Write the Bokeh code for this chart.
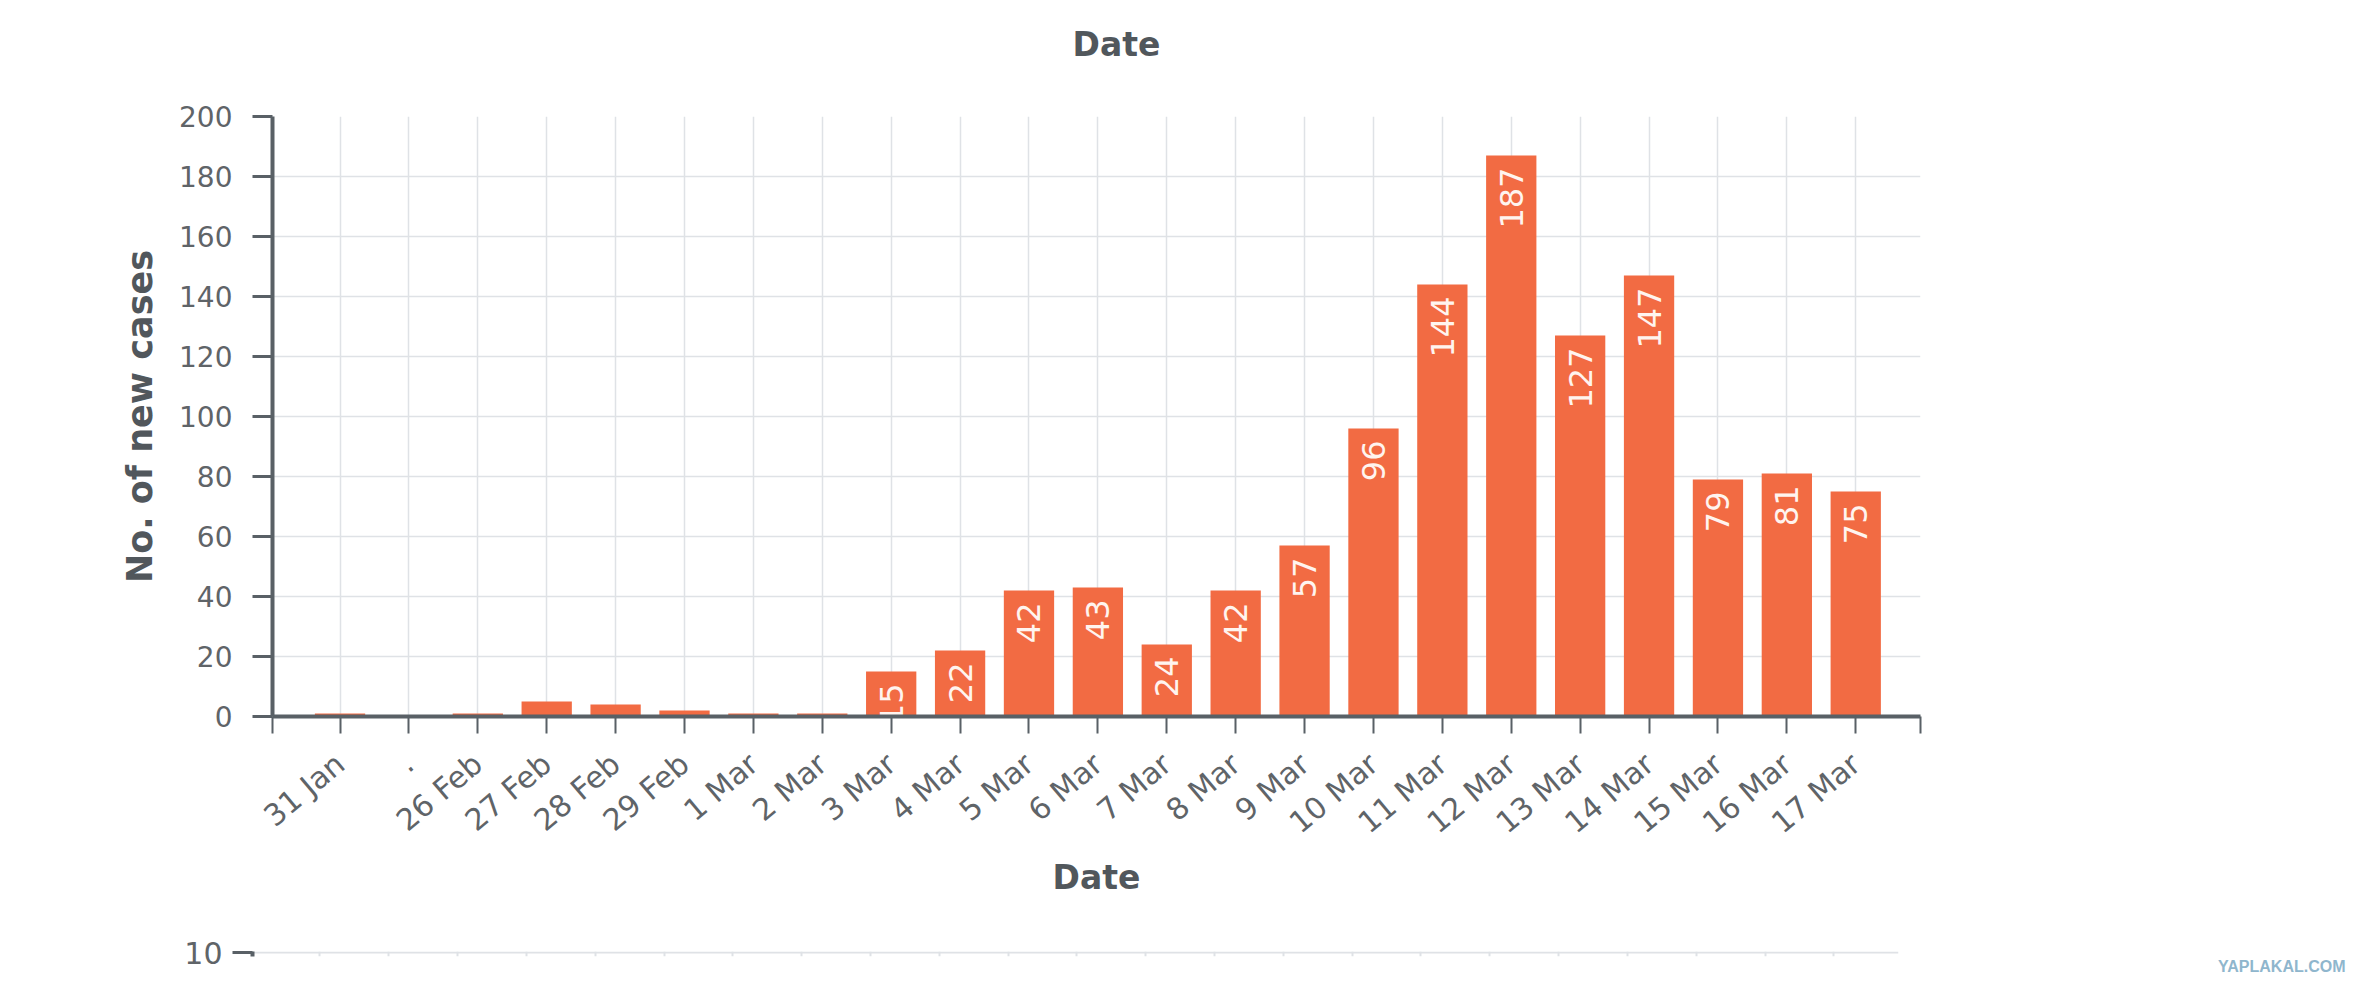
from bokeh.plotting import figure
from bokeh.models import (Range1d, FixedTicker, Legend, LegendItem, Title,
                          ColumnDataSource)
from bokeh.layouts import column, row
from bokeh.embed import file_html
from bokeh.resources import INLINE
from bokeh.core.properties import value

# ---------------- data ----------------
dates = ["31 Jan", ".", "26 Feb", "27 Feb", "28 Feb", "29 Feb", "1 Mar", "2 Mar",
         "3 Mar", "4 Mar", "5 Mar", "6 Mar", "7 Mar", "8 Mar", "9 Mar", "10 Mar",
         "11 Mar", "12 Mar", "13 Mar", "14 Mar", "15 Mar", "16 Mar", "17 Mar"]
new_cases = [1, 0, 1, 5, 4, 2, 1, 1, 15, 22, 42, 43, 24, 42, 57, 96,
             144, 187, 127, 147, 79, 81, 75]
y_ticks = [0, 20, 40, 60, 80, 100, 120, 140, 160, 180, 200]
next_chart_ticks = [10]
series_name = "New cases per day"
x_title = "Date"
y_title = "No. of new cases"
legend_title = "Legend"
watermark = "YAPLAKAL.COM"

# ---------------- style ----------------
BAR = "#f26b43"
AXIS = "#596066"
TXT = "#5f6468"
TITLE = "#51575c"
GRID = "#dfe2e6"
FONT = "DejaVu Sans"

idx = list(range(len(dates)))
x_lo, x_hi = -0.98, len(dates) - 1 + 0.94
W = 2354
PW = 1940          # width of the chart part; the legend panel takes the rest


def bare(fig):
    fig.outline_line_color = None
    fig.background_fill_color = "white"


# ---------------- tail of the chart above (only its axis title shows) ----------------
tf = figure(width=PW, height=90, x_range=Range1d(x_lo, x_hi), y_range=Range1d(0, 1),
            output_backend="svg", toolbar_location=None,
            min_border_left=272, min_border_right=20, min_border_top=0,
            min_border_bottom=0)
bare(tf)
tf.xaxis.visible = False
tf.yaxis.visible = False
tf.grid.visible = False
tf.title.text = x_title
tf.title.align = "left"
tf.title.offset = 800
tf.title.standoff = 45
tf.title.text_font = FONT
tf.title.text_font_size = "33px"
tf.title.text_font_style = "bold"
tf.title.text_color = TITLE

# ---------------- main chart ----------------
src = ColumnDataSource(dict(x=idx, cases=new_cases))
lab = [(i, v) for i, v in zip(idx, new_cases) if v >= 15]
lab_src = ColumnDataSource(dict(x=[i for i, _ in lab], y=[v for _, v in lab],
                                label=[str(v) for _, v in lab]))

p = figure(width=PW, height=840, x_range=Range1d(x_lo, x_hi),
           y_range=Range1d(0, 200), output_backend="svg", toolbar_location=None,
           min_border_left=272, min_border_right=20, min_border_top=26,
           min_border_bottom=214)
bare(p)

p.vbar(x="x", top="cases", width=0.73, source=src, color=BAR, line_color=None)
p.text(x="x", y="y", text="label", source=lab_src, angle=1.5708,
       text_align="right", text_baseline="middle", y_offset=12,
       text_color="#fff4ef", text_font=value(FONT), text_font_size="32px")

# x axis (outer ticks at both ends of the axis)
ticks = [x_lo + 0.001] + idx + [x_hi - 0.001]
overrides = {i: d for i, d in zip(idx, dates)}
overrides[x_lo + 0.001] = ""
overrides[x_hi - 0.001] = ""
xa = p.xaxis[0]
xa.ticker = FixedTicker(ticks=ticks)
xa.major_label_overrides = overrides
xa.major_label_orientation = 0.70
xa.major_label_text_font = FONT
xa.major_label_text_font_size = "30px"
xa.major_label_text_color = TXT
xa.major_label_standoff = 26
xa.major_tick_out = 17
xa.major_tick_in = 0
xa.major_tick_line_width = 2
xa.major_tick_line_color = AXIS
xa.minor_tick_line_color = None
xa.axis_line_width = 4
xa.axis_line_color = AXIS
xa.axis_label = x_title
xa.axis_label_text_font = FONT
xa.axis_label_text_font_size = "33px"
xa.axis_label_text_font_style = "bold"
xa.axis_label_text_color = TITLE
xa.axis_label_standoff = 2

# y axis
ya = p.yaxis[0]
ya.ticker = FixedTicker(ticks=y_ticks)
ya.major_label_text_font = FONT
ya.major_label_text_font_size = "28px"
ya.major_label_text_color = TXT
ya.major_label_standoff = 20
ya.major_tick_out = 20
ya.major_tick_in = 0
ya.major_tick_line_width = 3
ya.major_tick_line_color = AXIS
ya.minor_tick_line_color = None
ya.axis_line_width = 4
ya.axis_line_color = AXIS
ya.axis_label = y_title
ya.axis_label_text_font = FONT
ya.axis_label_text_font_size = "35px"
ya.axis_label_text_font_style = "bold"
ya.axis_label_text_color = TITLE
ya.axis_label_standoff = 16

p.xgrid.ticker = FixedTicker(ticks=idx)
p.ygrid.ticker = FixedTicker(ticks=y_ticks)
for g in (p.xgrid, p.ygrid):
    g.grid_line_color = GRID
    g.grid_line_width = 1.5

# ---------------- legend panel to the right of the chart ----------------
lf = figure(width=W - PW, height=840, output_backend="svg", toolbar_location=None,
            x_axis_location=None, y_axis_location=None,
            min_border_left=0, min_border_right=0, min_border_top=0,
            min_border_bottom=0)
bare(lf)
lf.grid.visible = False
# circle marker for the legend (the markers themselves have zero size)
leg_r = lf.scatter(x="x", y="cases", source=src, marker="circle", size=0,
                   color=BAR)
legend = Legend(items=[LegendItem(label=series_name, renderers=[leg_r])],
                title=legend_title, location=(38, 708),
                glyph_width=60, glyph_height=60, label_standoff=0,
                title_standoff=0, padding=0, margin=0, spacing=0,
                border_line_color=None, background_fill_alpha=0,
                title_text_font=FONT, title_text_font_size="33px",
                title_text_font_style="bold", title_text_color=TITLE,
                label_text_font=FONT, label_text_font_size="29px",
                label_text_color=TXT)
lf.add_layout(legend, "center")

# ---------------- top of the chart below (cut off) ----------------
bf = figure(width=W, height=60, x_range=Range1d(x_lo, x_hi),
            y_range=Range1d(9.5, 10.2), output_backend="svg",
            toolbar_location=None, min_border_left=252, min_border_right=456,
            min_border_top=21, min_border_bottom=34)
bare(bf)
bf.xaxis.visible = False
by = bf.yaxis[0]
by.ticker = FixedTicker(ticks=next_chart_ticks)
by.major_label_text_font = FONT
by.major_label_text_font_size = "30px"
by.major_label_text_color = TXT
by.major_label_standoff = 10
by.major_tick_out = 20
by.major_tick_in = 0
by.major_tick_line_width = 3
by.major_tick_line_color = AXIS
by.axis_line_width = 4
by.axis_line_color = AXIS
by.minor_tick_line_color = None
bf.xgrid.ticker = FixedTicker(ticks=idx)
bf.ygrid.ticker = FixedTicker(ticks=next_chart_ticks)
for g in (bf.xgrid, bf.ygrid):
    g.grid_line_color = GRID
    g.grid_line_width = 2
bf.add_layout(Title(text=watermark, align="right", offset=-447, standoff=2,
                    vertical_align="top",
                    text_font="Liberation Sans", text_font_size="16px",
                    text_font_style="bold", text_color="#8fb6cd"), "below")

layout = column(row(tf), row(p, lf), row(bf), spacing=0)
open("out.html", "w").write(file_html(layout, INLINE))
